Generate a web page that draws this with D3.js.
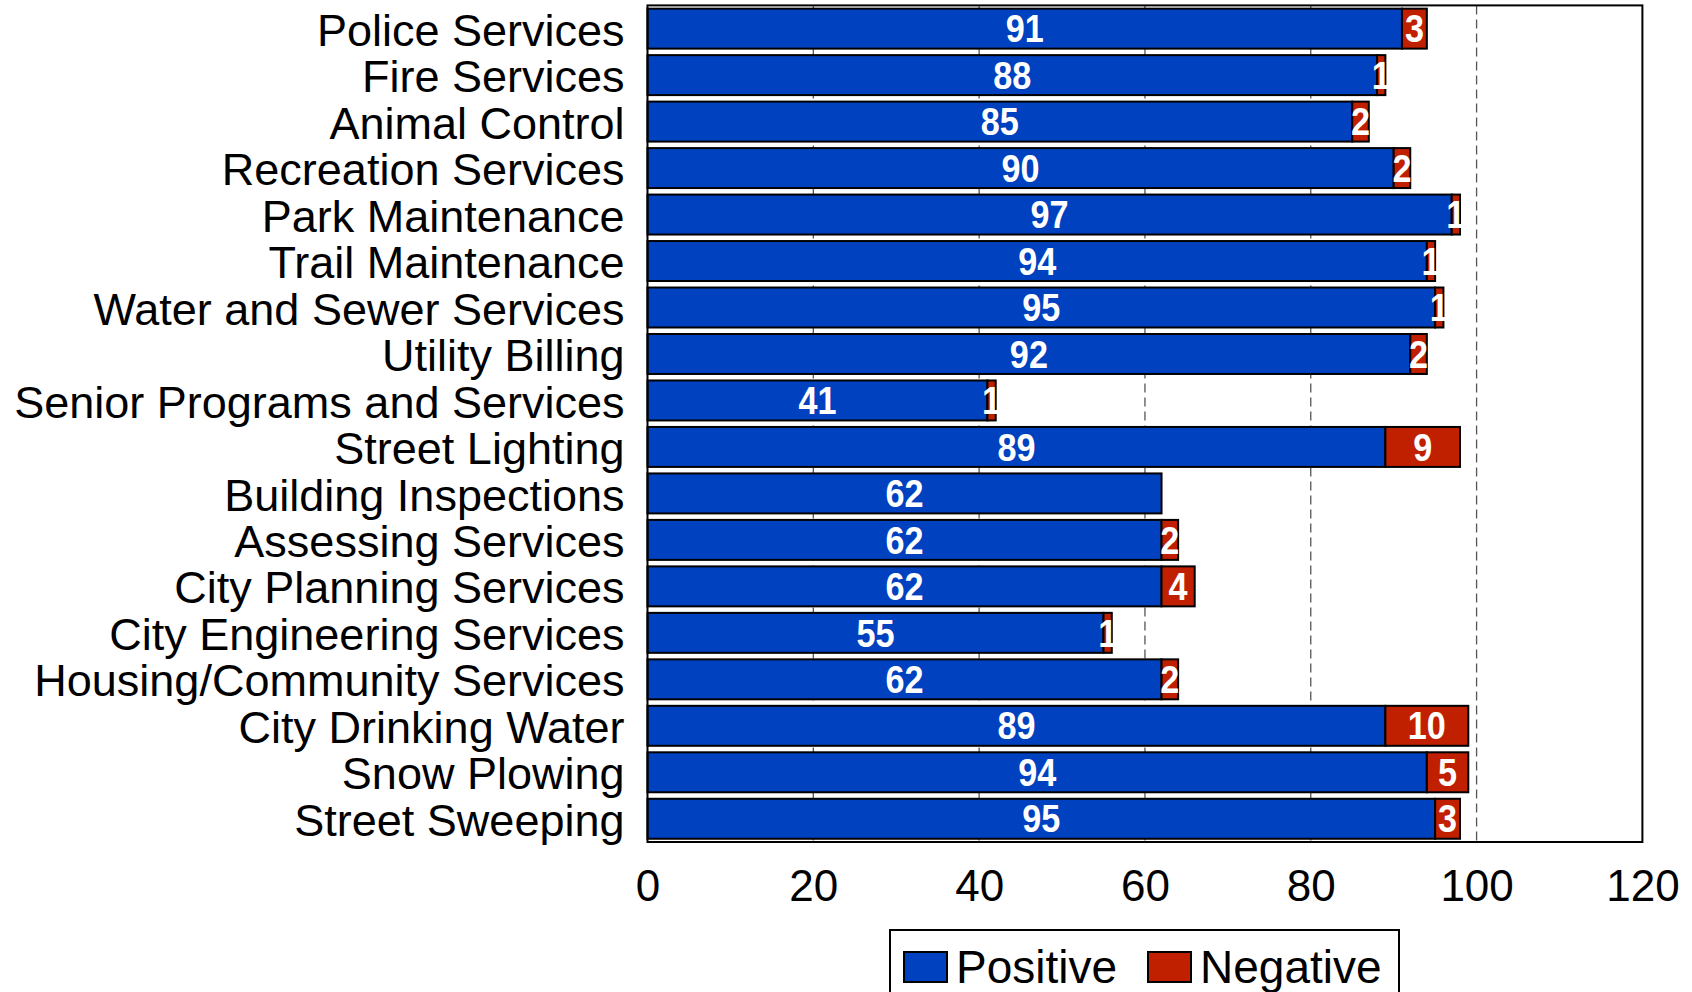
<!DOCTYPE html>
<html>
<head>
<meta charset="utf-8">
<script src="https://cdn.jsdelivr.net/npm/d3@7"></script>
<style>
  html, body { margin: 0; padding: 0; background: #fff; }
  svg { display: block; }
</style>
</head>
<body>
<svg id="chart" width="1692" height="992"></svg>
<script>
const categories = [
  "Police Services", "Fire Services", "Animal Control", "Recreation Services",
  "Park Maintenance", "Trail Maintenance", "Water and Sewer Services", "Utility Billing",
  "Senior Programs and Services", "Street Lighting", "Building Inspections",
  "Assessing Services", "City Planning Services", "City Engineering Services",
  "Housing/Community Services", "City Drinking Water", "Snow Plowing", "Street Sweeping"
];
const positive = [91, 88, 85, 90, 97, 94, 95, 92, 41, 89, 62, 62, 62, 55, 62, 89, 94, 95];
const negative = [3, 1, 2, 2, 1, 1, 1, 2, 1, 9, 0, 2, 4, 1, 2, 10, 5, 3];
const xTicks = [0, 20, 40, 60, 80, 100, 120];
const seriesNames = ["Positive", "Negative"];
const seriesColors = ["#0041C0", "#C02000"];

(function () {
const svg = d3.select("#chart");
const pL = 647.5, pR = 1642.4, pT = 5.4, pB = 842;
const font = "'Liberation Sans', Arial, sans-serif";

const x = d3.scaleLinear().domain([0, 120]).range([pL, pR]);
const y = d3.scaleBand().domain(categories).range([pT, pB]).paddingInner(0.14).paddingOuter(0.07);

svg.append("g").selectAll("line").data(xTicks.filter(t => t > 0 && t < 120)).join("line")
  .attr("x1", d => x(d)).attr("x2", d => x(d))
  .attr("y1", pT).attr("y2", pB)
  .attr("stroke", "#555").attr("stroke-width", 1.3).attr("stroke-dasharray", "9,5");

const rows = categories.map((c, i) => ({c, p: positive[i], n: negative[i]}));

const g = svg.append("g");
g.selectAll("rect.pos").data(rows).join("rect").attr("class", "pos")
  .attr("x", x(0)).attr("y", d => y(d.c))
  .attr("width", d => x(d.p) - x(0)).attr("height", y.bandwidth())
  .attr("fill", seriesColors[0]).attr("stroke", "#000").attr("stroke-width", 2);
g.selectAll("rect.neg").data(rows.filter(d => d.n > 0)).join("rect").attr("class", "neg")
  .attr("x", d => x(d.p)).attr("y", d => y(d.c))
  .attr("width", d => x(d.p + d.n) - x(d.p)).attr("height", y.bandwidth())
  .attr("fill", seriesColors[1]).attr("stroke", "#000").attr("stroke-width", 2);

function valueLabel(sel, cx, txt) {
  sel.attr("transform", d => `translate(${cx(d)},${y(d.c) + y.bandwidth() / 2}) scale(0.9,1)`)
    .attr("dy", "0.36em").attr("text-anchor", "middle")
    .attr("font-family", font).attr("font-weight", "bold").attr("font-size", 38)
    .attr("fill", "#fff").text(txt);
}
valueLabel(g.selectAll("text.pl").data(rows).join("text").attr("class", "pl"),
  d => (x(0) + x(d.p)) / 2, d => d.p);
valueLabel(g.selectAll("text.nl").data(rows.filter(d => d.n > 0)).join("text").attr("class", "nl"),
  d => (x(d.p) + x(d.p + d.n)) / 2, d => d.n);

svg.append("rect").attr("x", pL).attr("y", pT).attr("width", pR - pL).attr("height", pB - pT)
  .attr("fill", "none").attr("stroke", "#000").attr("stroke-width", 2);

const yAxis = d3.axisLeft(y).tickSize(0).tickPadding(23);
const ya = svg.append("g").attr("transform", `translate(${pL},0)`).call(yAxis);
ya.select(".domain").remove();
ya.selectAll("text").attr("font-family", font).attr("font-size", 45).attr("fill", "#000").attr("dy", "0.38em");

const xAxis = d3.axisBottom(x).tickValues(xTicks).tickSize(0).tickPadding(28);
const xa = svg.append("g").attr("transform", `translate(0,${pB})`).call(xAxis);
xa.select(".domain").remove();
xa.selectAll("text").attr("font-family", font).attr("font-size", 44).attr("fill", "#000");

const lg = svg.append("g");
lg.append("rect").attr("x", 890).attr("y", 930).attr("width", 509).attr("height", 90)
  .attr("fill", "#fff").attr("stroke", "#000").attr("stroke-width", 2);
const legendX = [904, 1148];
seriesNames.forEach((s, i) => {
  lg.append("rect").attr("x", legendX[i]).attr("y", 952).attr("width", 43).attr("height", 30)
    .attr("fill", seriesColors[i]).attr("stroke", "#000").attr("stroke-width", 2);
  lg.append("text").attr("x", legendX[i] + 52).attr("y", 983)
    .attr("font-family", font).attr("font-size", 46).attr("fill", "#000").text(s);
});
})();
</script>
</body>
</html>
